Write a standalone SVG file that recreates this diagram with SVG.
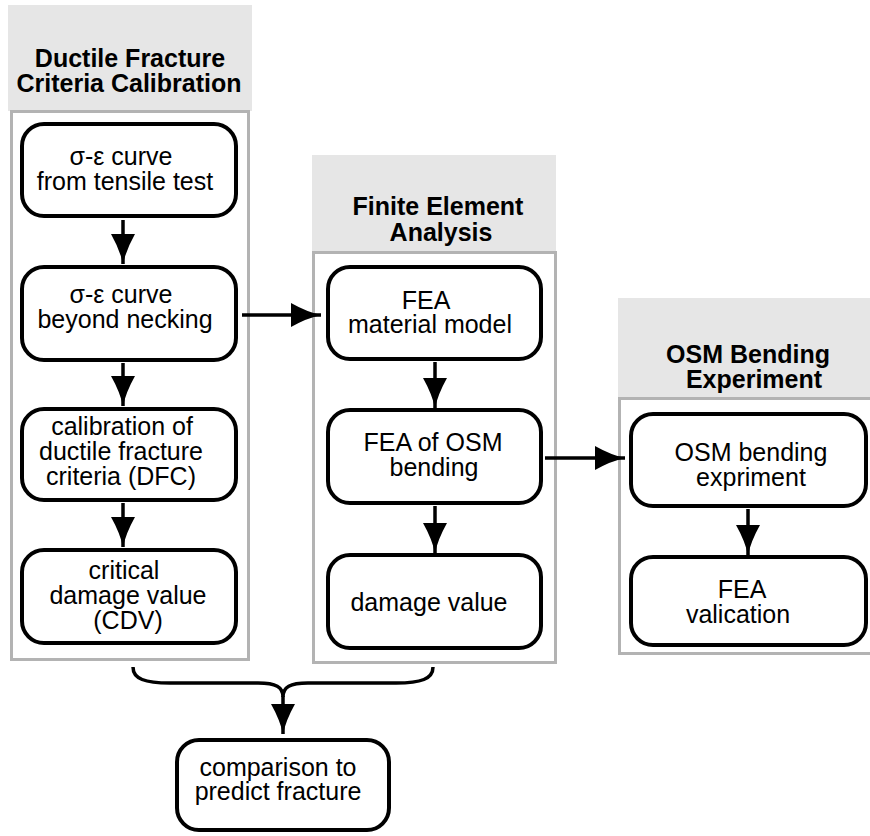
<svg xmlns="http://www.w3.org/2000/svg" width="870" height="836" viewBox="0 0 870 836">
  <style>
    .hdr { fill: #e6e6e6; stroke: none; }
    .box { fill: #ffffff; stroke: #b3b3b3; stroke-width: 3; }
    .node { fill: #ffffff; stroke: #000000; stroke-width: 4; }
    .t { font-family: "Liberation Sans", Arial, Helvetica, sans-serif; font-size: 25px; fill: #000000; text-anchor: middle; }
    .tb { font-weight: bold; }
    .edge { fill: none; stroke: #000000; stroke-width: 3.5; }
  </style>
  <defs>
    <marker id="arrow" markerUnits="userSpaceOnUse" markerWidth="34" markerHeight="26" refX="30" refY="12" orient="auto">
      <path d="M30,12 Q16,9 0,0 L0,24 Q16,15 30,12 Z" fill="#000000"/>
    </marker>
  </defs>

  <!-- swimlane: ductile fracture criteria calibration -->
  <g id="lane-dfc">
    <rect class="hdr" x="8" y="5" width="244" height="106"/>
    <rect class="box" x="11.5" y="111.5" width="237" height="548"/>
    <text class="t tb"><tspan x="130" y="67">Ductile Fracture</tspan><tspan x="129" y="92">Criteria Calibration</tspan></text>
  </g>

  <!-- swimlane: finite element analysis -->
  <g id="lane-fea">
    <rect class="hdr" x="312" y="155" width="244" height="97"/>
    <rect class="box" x="313.5" y="252.5" width="242" height="410"/>
    <text class="t tb"><tspan x="438" y="215">Finite Element</tspan><tspan x="441" y="241">Analysis</tspan></text>
  </g>

  <!-- swimlane: OSM bending experiment -->
  <g id="lane-osm">
    <rect class="hdr" x="618" y="298" width="256" height="100"/>
    <rect class="box" x="619.5" y="398.5" width="260" height="255"/>
    <text class="t tb"><tspan x="748" y="363">OSM Bending</tspan><tspan x="754" y="388">Experiment</tspan></text>
  </g>

  <g id="n-tensile">
    <rect class="node" x="22" y="124" width="214" height="92" rx="22"/>
    <text class="t"><tspan x="121" y="165">σ-ε curve</tspan><tspan x="125" y="190">from tensile test</tspan></text>
  </g>
  <g id="n-necking">
    <rect class="node" x="22" y="267" width="214" height="93" rx="22"/>
    <text class="t"><tspan x="121" y="303">σ-ε curve</tspan><tspan x="125" y="328">beyond necking</tspan></text>
  </g>
  <g id="n-calibration">
    <rect class="node" x="22" y="409" width="214" height="91" rx="22"/>
    <text class="t"><tspan x="122" y="435">calibration of</tspan><tspan x="121" y="460">ductile fracture</tspan><tspan x="121" y="485">criteria (DFC)</tspan></text>
  </g>
  <g id="n-cdv">
    <rect class="node" x="22" y="550" width="214" height="93" rx="22"/>
    <text class="t"><tspan x="124" y="579">critical</tspan><tspan x="128" y="604">damage value</tspan><tspan x="128" y="629">(CDV)</tspan></text>
  </g>

  <g id="n-material">
    <rect class="node" x="328" y="267" width="213" height="92" rx="22"/>
    <text class="t"><tspan x="426" y="309">FEA</tspan><tspan x="430" y="333">material model</tspan></text>
  </g>
  <g id="n-fea-osm">
    <rect class="node" x="328" y="410" width="213" height="93" rx="22"/>
    <text class="t"><tspan x="433" y="451">FEA of OSM</tspan><tspan x="434" y="476">bending</tspan></text>
  </g>
  <g id="n-damage">
    <rect class="node" x="328" y="555" width="213" height="93" rx="22"/>
    <text class="t" x="429" y="611">damage value</text>
  </g>

  <g id="n-experiment">
    <rect class="node" x="631" y="414" width="235" height="92" rx="22"/>
    <text class="t"><tspan x="751" y="461">OSM bending</tspan><tspan x="751" y="486">expriment</tspan></text>
  </g>
  <g id="n-validation">
    <rect class="node" x="631" y="557" width="235" height="88" rx="22"/>
    <text class="t"><tspan x="742" y="598">FEA</tspan><tspan x="738" y="623">valication</tspan></text>
  </g>

  <g id="n-comparison">
    <rect class="node" x="177" y="740" width="212" height="90" rx="22"/>
    <text class="t"><tspan x="278" y="776">comparison to</tspan><tspan x="278" y="800">predict fracture</tspan></text>
  </g>

  <!-- connectors -->
  <g id="connectors">
    <line class="edge" x1="123" y1="220" x2="123" y2="264" marker-end="url(#arrow)"/>
    <line class="edge" x1="123" y1="363" x2="123" y2="406" marker-end="url(#arrow)"/>
    <line class="edge" x1="123" y1="503" x2="123" y2="547" marker-end="url(#arrow)"/>
    <line class="edge" x1="242" y1="315" x2="321" y2="315" marker-end="url(#arrow)"/>
    <line class="edge" x1="435" y1="362" x2="435" y2="408" marker-end="url(#arrow)"/>
    <line class="edge" x1="435" y1="506" x2="435" y2="553" marker-end="url(#arrow)"/>
    <line class="edge" x1="545" y1="458" x2="625" y2="458" marker-end="url(#arrow)"/>
    <line class="edge" x1="748" y1="509" x2="748" y2="555" marker-end="url(#arrow)"/>
    <!-- curly brace joining the two damage values -->
    <path class="edge" d="M133,667 C133,679 145,683 170,683 L258,683 C276,683 283,687 283,697 C283,687 290,683 308,683 L396,683 C421,683 433,679 433,667"/>
    <line class="edge" x1="283" y1="696" x2="283" y2="734" marker-end="url(#arrow)"/>
  </g>
</svg>
